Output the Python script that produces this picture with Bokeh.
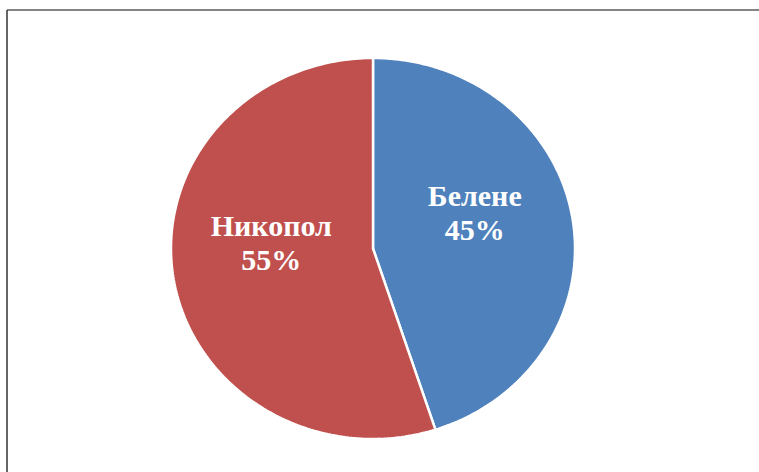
import numpy as np
from bokeh.plotting import figure
from bokeh.models import ColumnDataSource
from bokeh.core.properties import value
from bokeh.embed import file_html
from bokeh.resources import INLINE

# ---- data ----
categories = ["Белене", "Никопол"]
shares = [45, 55]
colors = ["#4F81BD", "#C0504D"]
pct_labels = ["45%", "55%"]

# ---- layout ----
W, H = 759, 472
CX, CY = 372.5, 224.0      # pie centre in plot units (pixels)
RX, RY = 202.0, 190.5      # slightly stretched ellipse, as in the reference

p = figure(width=W, height=H, output_backend="svg", toolbar_location=None,
           x_range=(0, W), y_range=(0, H), min_border=0)
p.axis.visible = False
p.grid.visible = False
p.outline_line_color = None
p.background_fill_color = "white"

total = float(sum(shares))
fracs = np.array(shares) / total
starts = np.concatenate([[0.0], np.cumsum(fracs)[:-1]]) * 2 * np.pi
ends = np.cumsum(fracs) * 2 * np.pi

xs, ys, lx, ly = [], [], [], []
for s, e in zip(starts, ends):
    t = np.linspace(s, e, 200)          # clockwise angle from 12 o'clock
    xs.append(np.concatenate([[CX], CX + RX * np.sin(t), [CX]]).tolist())
    ys.append(np.concatenate([[CY], CY + RY * np.cos(t), [CY]]).tolist())
    m = (s + e) / 2
    lx.append(CX + 0.51 * RX * np.sin(m))
    ly.append(CY + 0.51 * RY * np.cos(m) + 21)

src = ColumnDataSource(dict(xs=xs, ys=ys, color=colors))
p.patches("xs", "ys", source=src, fill_color="color", line_color="white",
          line_width=2.5)

lab = ColumnDataSource(dict(
    x=lx,
    y1=[v + 17 for v in ly],
    y2=[v - 17 for v in ly],
    name=categories,
    pct=pct_labels,
))
for ycol, tcol in (("y1", "name"), ("y2", "pct")):
    p.text("x", ycol, text=tcol, source=lab, text_color="white",
           text_font=value("Liberation Serif"), text_font_style="bold",
           text_font_size="30px", text_align="center", text_baseline="middle")

# chart-area border (only top and left edges are visible in the reference)
BX, BY = 6.5, H - 9.5
p.segment(x0=[BX, BX], y0=[BY, BY], x1=[W + 5, BX], y1=[BY, -5],
          line_color=["#858585", "#333333"], line_width=[2, 1.5])

open("out.html", "w").write(file_html(p, INLINE))
